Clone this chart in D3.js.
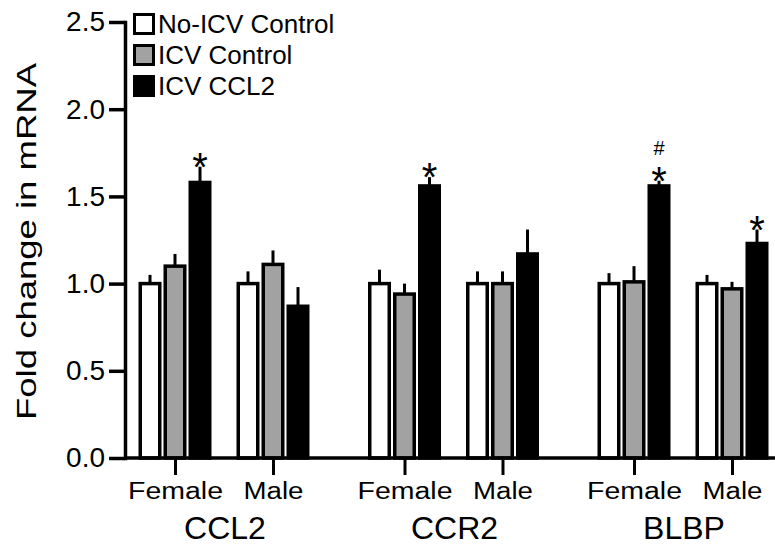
<!DOCTYPE html>
<html>
<head>
<meta charset="utf-8">
<script src="https://cdn.jsdelivr.net/npm/d3@7"></script>
<style>
  body { margin: 0; background: #fff; }
  svg { display: block; font-family: "Liberation Sans", Arial, Helvetica, sans-serif; }
</style>
</head>
<body>
<svg id="chart"></svg>
<script>
const genes = ["CCL2", "CCR2", "BLBP"];
const sexes = ["Female", "Male"];
const groups = ["No-ICV Control", "ICV Control", "ICV CCL2"];

// order: CCL2 F, CCL2 M, CCR2 F, CCR2 M, BLBP F, BLBP M
const noIcvMean = [1.00, 1.00, 1.00, 1.00, 1.00, 1.00];
const noIcvSem  = [0.05, 0.07, 0.08, 0.07, 0.06, 0.05];
const icvCtrlMean = [1.10, 1.11, 0.94, 1.00, 1.01, 0.97];
const icvCtrlSem  = [0.07, 0.08, 0.06, 0.07, 0.09, 0.04];
const icvCcl2Mean = [1.58, 0.87, 1.56, 1.17, 1.56, 1.23];
const icvCcl2Sem  = [0.09, 0.11, 0.05, 0.14, 0.03, 0.08];

const yTicks = [0, 0.5, 1.0, 1.5, 2.0, 2.5];
const yLabel = "Fold change in mRNA";

// significance marks on the ICV CCL2 bar
const starMarks = [["CCL2", "Female"], ["CCR2", "Female"], ["BLBP", "Female"], ["BLBP", "Male"]];
const hashMarks = [["BLBP", "Female"]];

class FoldChangeChart {

    constructor( config, data ) {
        this.config = {
            parent: config.parent,
            width: config.width || 775,
            height: config.height || 546,
            margin: config.margin || {top:22, right:0, bottom:88, left:125}
        }
        this.data = data;
        this.init();
    }

    init() {
        let self = this;

        self.svg = d3.select( self.config.parent )
            .attr('width', self.config.width)
            .attr('height', self.config.height);

        self.inner_width = self.config.width - self.config.margin.left - self.config.margin.right;
        self.inner_height = self.config.height - self.config.margin.top - self.config.margin.bottom;
        self.base = self.config.margin.top + self.inner_height;

        self.yscale = d3.scaleLinear()
            .domain( [0, 2.5] )
            .range( [self.base, self.config.margin.top] );

        self.genescale = d3.scaleBand()
            .domain( genes )
            .range( [109.25, 797.75] );

        self.sexscale = d3.scalePoint()
            .domain( sexes )
            .range( [0, self.genescale.bandwidth()] )
            .padding( 0.671 );

        self.groupscale = d3.scaleBand()
            .domain( groups )
            .range( [-37.5, 37.5] );

        self.color = d3.scaleOrdinal()
            .domain( groups )
            .range( ["#ffffff", "#a2a2a2", "#000000"] );

        self.barWidth = 19.5;
    }

    cx( gene, sex, group ) {
        return this.genescale(gene) + this.sexscale(sex) + this.groupscale(group) + this.groupscale.bandwidth()/2;
    }

    render() {
        let self = this;
        const y = self.yscale;

        // bars
        self.svg.append('g').selectAll('rect')
            .data(self.data)
            .join('rect')
            .attr('x', d => self.cx(d.gene, d.sex, d.group) - self.barWidth/2)
            .attr('width', self.barWidth)
            .attr('y', d => y(d.mean))
            .attr('height', d => y(0) - y(d.mean))
            .attr('fill', d => self.color(d.group))
            .attr('stroke', '#000')
            .attr('stroke-width', 3.5);

        // error bars (upper only)
        self.svg.append('g').selectAll('line')
            .data(self.data)
            .join('line')
            .attr('x1', d => self.cx(d.gene, d.sex, d.group))
            .attr('x2', d => self.cx(d.gene, d.sex, d.group))
            .attr('y1', d => y(d.mean) - 1)
            .attr('y2', d => y(d.mean + d.sem))
            .attr('stroke', '#000')
            .attr('stroke-width', 3);

        // y axis
        const yaxis = d3.axisLeft( y )
            .tickValues( yTicks )
            .tickFormat( d3.format(".1f") )
            .tickSize( 16 )
            .tickPadding( 4 )
            .tickSizeOuter( 0 );

        const ygroup = self.svg.append('g')
            .attr('transform', `translate(${self.config.margin.left},0)`)
            .call( yaxis )
            .attr('font-size', 28)
            .attr('font-family', null);
        ygroup.select('.domain').attr('stroke-width', 3.5).attr('stroke-linecap', 'square');
        ygroup.selectAll('.tick line').attr('stroke-width', 3.5);
        ygroup.selectAll('.tick text').attr('fill', '#000');

        // x axis baseline
        self.svg.append('line')
            .attr('x1', self.config.margin.left)
            .attr('x2', self.config.width)
            .attr('y1', y(0))
            .attr('y2', y(0))
            .attr('stroke', '#000')
            .attr('stroke-width', 3.5);

        const keys = genes.flatMap(g => sexes.map(s => g + "|" + s));
        const xtick = d3.scaleOrdinal()
            .domain( keys )
            .range( keys.map(k => { const p = k.split("|"); return self.genescale(p[0]) + self.sexscale(p[1]); }) );

        const xaxis = d3.axisBottom( xtick )
            .tickSize( 17 )
            .tickPadding( 8 )
            .tickSizeOuter( 0 )
            .tickFormat( k => k.split("|")[1] );

        const xgroup = self.svg.append('g')
            .attr('transform', `translate(0,${y(0)})`)
            .call( xaxis )
            .attr('font-size', 23)
            .attr('font-family', null);
        xgroup.select('.domain').remove();
        xgroup.selectAll('.tick line').attr('stroke-width', 3);
        xgroup.selectAll('.tick text')
            .attr('fill', '#000')
            .attr('textLength', k => k.endsWith("Female") ? 95 : 60)
            .attr('lengthAdjust', 'spacingAndGlyphs');

        // gene labels
        self.svg.append('g').selectAll('text')
            .data(genes)
            .join('text')
            .attr('x', d => self.genescale(d) + self.genescale.bandwidth()/2 + 1)
            .attr('y', 539)
            .attr('text-anchor', 'middle')
            .attr('font-size', 32)
            .text(d => d);

        // y label
        self.svg.append('text')
            .attr('transform', `translate(36,${(63 + 420)/2}) rotate(-90)`)
            .attr('text-anchor', 'middle')
            .attr('font-size', 28)
            .attr('textLength', 357)
            .attr('lengthAdjust', 'spacingAndGlyphs')
            .text(yLabel);

        // significance marks
        const starSize = 40;
        const top = (g, s) => {
            const d = self.data.find(r => r.gene === g && r.sex === s && r.group === "ICV CCL2");
            return y(d.mean + d.sem);
        };
        self.svg.append('g').selectAll('text')
            .data(starMarks)
            .join('text')
            .attr('x', d => self.cx(d[0], d[1], "ICV CCL2"))
            .attr('y', d => top(d[0], d[1]) - 3 + 0.43*starSize)
            .attr('text-anchor', 'middle')
            .attr('font-size', starSize)
            .text("*");

        self.svg.append('g').selectAll('text')
            .data(hashMarks)
            .join('text')
            .attr('x', d => self.cx(d[0], d[1], "ICV CCL2"))
            .attr('y', d => top(d[0], d[1]) - 3 - 0.31*starSize - 10)
            .attr('text-anchor', 'middle')
            .attr('font-size', 20)
            .text("#");

        // legend
        const legend = self.svg.append('g').selectAll('g')
            .data(groups)
            .join('g')
            .attr('transform', (d, i) => `translate(134.5,${14.5 + i*31})`);
        legend.append('rect')
            .attr('width', 19)
            .attr('height', 19)
            .attr('fill', d => self.color(d))
            .attr('stroke', '#000')
            .attr('stroke-width', 3);
        legend.append('text')
            .attr('x', 23.5)
            .attr('y', 18.5)
            .attr('font-size', 26)
            .text(d => d);
    }
}

const means = [noIcvMean, icvCtrlMean, icvCcl2Mean];
const sems = [noIcvSem, icvCtrlSem, icvCcl2Sem];
const rows = [];
genes.forEach((g, gi) => {
    sexes.forEach((s, si) => {
        groups.forEach((grp, k) => {
            const idx = gi*2 + si;
            rows.push({gene: g, sex: s, group: grp, mean: means[k][idx], sem: sems[k][idx]});
        });
    });
});

const chart = new FoldChangeChart({parent: '#chart'}, rows);
chart.render();
</script>
</body>
</html>
